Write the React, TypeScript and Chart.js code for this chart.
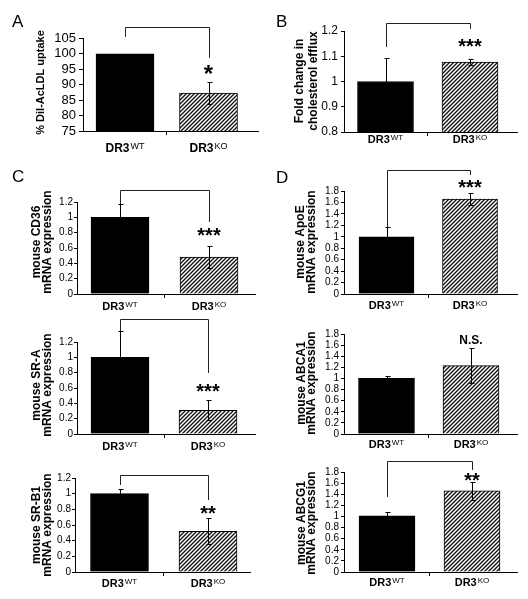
import React, { useEffect, useRef } from "react";
import { Chart, registerables } from "chart.js";

Chart.register(...registerables);

const FONT = "'Liberation Sans', Arial, Helvetica, sans-serif";
const PAGE_W = 528;
const PAGE_H = 599;

// ---------- data ----------
const groupName = "DR3";
const groupSuperscripts = ["WT", "KO"];

const uptakeValues = [100, 87.3];
const uptakeErrors = [0, 3.5];
const uptakeAxis = [75, 105, 5];

const effluxValues = [1.0, 1.077];
const effluxErrors = [0.093, 0.012];
const effluxAxis = [0.8, 1.2, 0.1];

const cd36Values = [1.0, 0.48];
const cd36Errors = [0.17, 0.145];
const sraValues = [1.0, 0.31];
const sraErrors = [0.34, 0.13];
const srb1Values = [1.0, 0.52];
const srb1Errors = [0.06, 0.165];
const scavengerAxis = [0, 1.2, 0.2];

const apoeValues = [1.0, 1.66];
const apoeErrors = [0.17, 0.105];
const abca1Values = [1.0, 1.23];
const abca1Errors = [0.04, 0.31];
const abcg1Values = [1.01, 1.46];
const abcg1Errors = [0.07, 0.16];
const effluxGeneAxis = [0, 1.8, 0.2];

const significance = ["*", "***", "***", "***", "**", "***", "N.S.", "**"];

// ---------- layout (pixels / annotation placement) ----------
type Layout = {
  l: number; r: number; t: number; b: number;
  wtC: number; koC: number; barW: number;
  tick: number; tickLen: number; tickPad: number;
  letter?: { t: string; x: number; y: number };
  titleXs: number[]; titleCy: number; titleSize: number;
  labelBase: number; labelSize: number; supSize: number;
  sigSize: number;
};

type PanelDef = {
  values: number[];
  errors: number[];
  axis: number[];
  title: string[];
  sig: string;
  sigY: number;
  bracket?: number[]; // [top, leftEnd, rightEnd] in data units
  layout: Layout;
};

const panels: PanelDef[] = [
  {
    values: uptakeValues, errors: uptakeErrors, axis: uptakeAxis,
    title: ["% DiI-AcLDL uptake"], sig: significance[0], sigY: 94.8,
    bracket: [108.7, 105.5, 98.7],
    layout: {
      l: 83, r: 258, t: 38.5, b: 131, wtC: 125, koC: 208.5, barW: 58,
      tick: 13, tickLen: 4, tickPad: 3,
      letter: { t: "A", x: 12, y: 27 },
      titleXs: [40.5], titleCy: 82.5, titleSize: 11,
      labelBase: 151.5, labelSize: 12, supSize: 9, sigSize: 24,
    },
  },
  {
    values: effluxValues, errors: effluxErrors, axis: effluxAxis,
    title: ["Fold change in", "cholesterol efflux"], sig: significance[1], sigY: 1.1525,
    bracket: [1.2317, 1.1366, 1.2079],
    layout: {
      l: 344, r: 517, t: 31, b: 132, wtC: 385.5, koC: 470, barW: 56,
      tick: 12, tickLen: 3, tickPad: 3,
      letter: { t: "B", x: 276, y: 27 },
      titleXs: [299.5, 314], titleCy: 81, titleSize: 12,
      labelBase: 143, labelSize: 11, supSize: 8, sigSize: 20,
    },
  },
  {
    values: cd36Values, errors: cd36Errors, axis: scavengerAxis,
    title: ["mouse CD36", "mRNA expression"], sig: significance[2], sigY: 0.809,
    bracket: [1.356, 1.174, 0.939],
    layout: {
      l: 77, r: 255, t: 202, b: 294, wtC: 120, koC: 209, barW: 58,
      tick: 10, tickLen: 3, tickPad: 1,
      letter: { t: "C", x: 12, y: 182 },
      titleXs: [37, 47.5], titleCy: 242, titleSize: 12,
      labelBase: 310, labelSize: 11, supSize: 8, sigSize: 20,
    },
  },
  {
    values: sraValues, errors: sraErrors, axis: scavengerAxis,
    title: ["mouse SR-A", "mRNA expression"], sig: significance[3], sigY: 0.6,
    bracket: [1.5, 1.343, 0.796],
    layout: {
      l: 77, r: 255, t: 342, b: 434, wtC: 120, koC: 208, barW: 58,
      tick: 10, tickLen: 3, tickPad: 1,
      titleXs: [37, 47.5], titleCy: 385, titleSize: 12,
      labelBase: 450, labelSize: 11, supSize: 8, sigSize: 20,
    },
  },
  {
    values: srb1Values, errors: srb1Errors, axis: scavengerAxis,
    title: ["mouse SR-B1", "mRNA expression"], sig: significance[4], sigY: 0.79,
    bracket: [1.238, 1.111, 0.919],
    layout: {
      l: 75, r: 250, t: 478, b: 572, wtC: 119.5, koC: 208, barW: 58,
      tick: 10, tickLen: 3, tickPad: 1,
      titleXs: [37, 48], titleCy: 525, titleSize: 12,
      labelBase: 587, labelSize: 11, supSize: 8, sigSize: 20,
    },
  },
  {
    values: apoeValues, errors: apoeErrors, axis: effluxGeneAxis,
    title: ["mouse ApoE", "mRNA expression"], sig: significance[5], sigY: 1.922,
    bracket: [2.167, 1.171, 2.08],
    layout: {
      l: 344, r: 517, t: 191, b: 294, wtC: 386.5, koC: 470, barW: 55,
      tick: 10, tickLen: 3, tickPad: 2,
      letter: { t: "D", x: 276, y: 183 },
      titleXs: [301, 312], titleCy: 242, titleSize: 12,
      labelBase: 309, labelSize: 11, supSize: 8, sigSize: 20,
    },
  },
  {
    values: abca1Values, errors: abca1Errors, axis: effluxGeneAxis,
    title: ["mouse ABCA1", "mRNA expression"], sig: significance[6], sigY: 1.71,
    layout: {
      l: 344, r: 517, t: 334, b: 434, wtC: 386.5, koC: 471, barW: 56,
      tick: 10, tickLen: 3, tickPad: 2,
      titleXs: [301.5, 312], titleCy: 383, titleSize: 12,
      labelBase: 448, labelSize: 11, supSize: 8, sigSize: 12,
    },
  },
  {
    values: abcg1Values, errors: abcg1Errors, axis: effluxGeneAxis,
    title: ["mouse ABCG1", "mRNA expression"], sig: significance[7], sigY: 1.71,
    bracket: [1.998, 1.35, 1.836],
    layout: {
      l: 344, r: 517, t: 472, b: 572, wtC: 387, koC: 472, barW: 56,
      tick: 10, tickLen: 3, tickPad: 2,
      titleXs: [301.5, 312], titleCy: 523, titleSize: 12,
      labelBase: 586, labelSize: 11, supSize: 8, sigSize: 20,
    },
  },
];

function makeHatch(ctx: CanvasRenderingContext2D): CanvasPattern | string {
  const s = 4;
  const c = document.createElement("canvas");
  c.width = s;
  c.height = s;
  const g = c.getContext("2d");
  if (!g) return "#888";
  g.fillStyle = "#ffffff";
  g.fillRect(0, 0, s, s);
  g.strokeStyle = "#111111";
  g.lineWidth = 1.35;
  g.beginPath();
  g.moveTo(0, s);
  g.lineTo(s, 0);
  g.moveTo(-1, 1);
  g.lineTo(1, -1);
  g.moveTo(s - 1, s + 1);
  g.lineTo(s + 1, s - 1);
  g.stroke();
  return ctx.createPattern(c, "repeat") || "#888";
}

function drawCenteredText(ctx: CanvasRenderingContext2D, text: string, cx: number, cy: number) {
  const m = ctx.measureText(text);
  const asc = m.actualBoundingBoxAscent;
  const desc = m.actualBoundingBoxDescent;
  ctx.textAlign = "center";
  ctx.textBaseline = "alphabetic";
  ctx.fillText(text, cx, cy + (asc - desc) / 2);
}

function annotationPlugin(p: PanelDef) {
  return {
    id: "annotations",
    afterDatasetsDraw(chart: any) {
      const ctx: CanvasRenderingContext2D = chart.ctx;
      const ys = chart.scales.y;
      const meta = chart.getDatasetMeta(0);
      ctx.save();
      ctx.strokeStyle = "#000";
      ctx.lineWidth = 1;
      meta.data.forEach((bar: any, i: number) => {
        const e = p.errors[i];
        if (!e) return;
        const v = p.values[i];
        const x = Math.round(bar.x) + 0.5;
        const yT = Math.round(ys.getPixelForValue(v + e)) + 0.5;
        const yB = Math.round(ys.getPixelForValue(v - e)) + 0.5;
        ctx.beginPath();
        ctx.moveTo(x, yT);
        ctx.lineTo(x, yB);
        ctx.moveTo(x - 2, yT);
        ctx.lineTo(x + 3, yT);
        ctx.moveTo(x - 2, yB);
        ctx.lineTo(x + 3, yB);
        ctx.stroke();
      });
      ctx.restore();
    },
    afterDraw(chart: any) {
      const ctx: CanvasRenderingContext2D = chart.ctx;
      const xs = chart.scales.x;
      const ys = chart.scales.y;
      const L = p.layout;
      ctx.save();
      ctx.fillStyle = "#000";
      ctx.strokeStyle = "#222";
      ctx.lineWidth = 1;

      const x0 = Math.round(xs.getPixelForValue(0)) + 0.5;
      const x1 = Math.round(xs.getPixelForValue(1)) + 0.5;

      if (p.bracket) {
        const yTop = Math.round(ys.getPixelForValue(p.bracket[0])) + 0.5;
        const yL = ys.getPixelForValue(p.bracket[1]);
        const yR = ys.getPixelForValue(p.bracket[2]);
        ctx.beginPath();
        ctx.moveTo(x0, yL);
        ctx.lineTo(x0, yTop);
        ctx.lineTo(x1, yTop);
        ctx.lineTo(x1, yR);
        ctx.stroke();
      }

      ctx.font = `bold ${L.sigSize}px ${FONT}`;
      drawCenteredText(ctx, p.sig, xs.getPixelForValue(1), ys.getPixelForValue(p.sigY));

      if (L.letter) {
        ctx.font = `17px ${FONT}`;
        ctx.textAlign = "left";
        ctx.textBaseline = "alphabetic";
        ctx.fillText(L.letter.t, L.letter.x, L.letter.y);
      }

      ctx.font = `bold ${L.titleSize}px ${FONT}`;
      p.title.forEach((line, i) => {
        ctx.save();
        ctx.translate(L.titleXs[i], L.titleCy);
        ctx.rotate(-Math.PI / 2);
        ctx.textAlign = "center";
        ctx.textBaseline = "middle";
        ctx.fillText(line, 0, 0);
        ctx.restore();
      });

      groupSuperscripts.forEach((sup, i) => {
        const cx = xs.getPixelForValue(i);
        ctx.font = `bold ${L.labelSize}px ${FONT}`;
        const w1 = ctx.measureText(groupName).width;
        ctx.font = `${L.supSize}px ${FONT}`;
        const w2 = ctx.measureText(sup).width;
        const start = cx - (w1 + 1 + w2) / 2;
        ctx.textAlign = "left";
        ctx.textBaseline = "alphabetic";
        ctx.font = `bold ${L.labelSize}px ${FONT}`;
        ctx.fillText(groupName, start, L.labelBase);
        ctx.font = `${L.supSize}px ${FONT}`;
        ctx.fillText(sup, start + w1 + 1, L.labelBase - 3);
      });

      ctx.restore();
    },
  };
}

function PanelChart({ p }: { p: PanelDef }) {
  const ref = useRef<HTMLCanvasElement>(null);
  useEffect(() => {
    const canvas = ref.current;
    if (!canvas) return;
    const ctx = canvas.getContext("2d");
    if (!ctx) return;
    const L = p.layout;
    const u = L.koC - L.wtC;
    const YW = 40;
    const XH = 12;
    const hatch = makeHatch(ctx);
    const [ymin, ymax, ystep] = p.axis;
    const chart = new Chart(canvas, {
      type: "bar",
      data: {
        datasets: [
          {
            data: p.values.map((v, i) => ({ x: i, y: v })),
            backgroundColor: ["#000000", hatch as any],
            borderColor: "#000000",
            borderWidth: 1,
            barThickness: L.barW,
          } as any,
        ],
      },
      options: {
        responsive: false,
        animation: false,
        events: [],
        layout: {
          padding: {
            left: L.l - YW,
            right: PAGE_W - L.r,
            top: L.t,
            bottom: PAGE_H - L.b - XH,
          },
        },
        plugins: {
          legend: { display: false },
          tooltip: { enabled: false },
          title: { display: false },
        },
        scales: {
          x: {
            type: "linear",
            offset: false,
            bounds: "data",
            min: -(L.wtC - L.l) / u,
            max: (L.r - L.wtC) / u,
            afterBuildTicks: (s: any) => {
              s.ticks = [{ value: 0.5 }];
            },
            afterFit: (s: any) => {
              s.height = XH;
            },
            ticks: { display: false },
            grid: { offset: false, drawOnChartArea: false, drawTicks: true, tickLength: 4, color: "#000" },
            border: { display: true, color: "#000", width: 1 },
          },
          y: {
            type: "linear",
            min: ymin,
            max: ymax,
            afterBuildTicks: (s: any) => {
              const n = Math.round((ymax - ymin) / ystep);
              const t = [];
              for (let i = 0; i <= n; i++) t.push({ value: Math.round((ymin + i * ystep) * 1000) / 1000 });
              s.ticks = t;
            },
            afterFit: (s: any) => {
              s.width = YW;
            },
            ticks: {
              autoSkip: false,
              color: "#000",
              padding: L.tickPad,
              font: { family: FONT, size: L.tick },
              callback: (v: any) => String(Math.round(Number(v) * 1000) / 1000),
            },
            grid: { drawOnChartArea: false, drawTicks: true, tickLength: L.tickLen, color: "#000" },
            border: { display: true, color: "#000", width: 1 },
          },
        },
      } as any,
      plugins: [annotationPlugin(p)],
    });
    return () => chart.destroy();
  }, [p]);
  return (
    <canvas
      ref={ref}
      width={PAGE_W}
      height={PAGE_H}
      style={{ position: "absolute", left: 0, top: 0, width: PAGE_W, height: PAGE_H }}
    />
  );
}

export default function App() {
  return (
    <div
      style={{
        position: "absolute",
        left: 0,
        top: 0,
        width: PAGE_W,
        height: PAGE_H,
        background: "#ffffff",
        overflow: "hidden",
      }}
    >
      {panels.map((p, i) => (
        <PanelChart key={i} p={p} />
      ))}
    </div>
  );
}
